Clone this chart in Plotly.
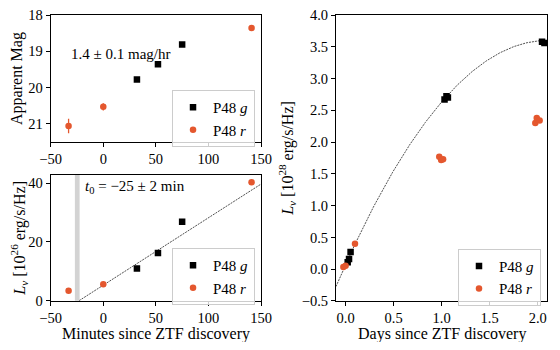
import numpy as np
import plotly.graph_objects as go

# --- данные ---
# верхняя левая панель: видимая звёздная величина
g_min = [32, 52, 75]
g_mag = [19.78, 19.36, 18.81]
g_mag_err = [0.03, 0.03, 0.03]
r_min = [-33, 0, 141]
r_mag = [21.06, 20.53, 18.36]
r_mag_err = [0.2, 0.1, 0.03]

# нижняя левая панель: светимость, 1e26 erg/s/Hz
g_lum = [11.0, 16.2, 26.9]
g_lum_err = [0.4, 0.5, 0.7]
r_lum = [3.4, 5.6, 40.3]
r_lum_err = [0.6, 0.5, 0.6]

# линейная аппроксимация и t0
lin_zero = -23.0
lin_slope = 0.2295
t0_lo, t0_hi = -27.0, -22.5

# правая панель: дни, 1e28 erg/s/Hz
g_day = [0.022, 0.036, 0.052, 1.03, 1.05, 1.065, 2.045, 2.07]
g_lum28 = [0.11, 0.16, 0.27, 2.67, 2.72, 2.70, 3.58, 3.56]
r_day = [-0.023, 0.0, 0.098, 0.975, 0.995, 1.015, 1.975, 1.99, 2.02]
r_lum28 = [0.035, 0.056, 0.40, 1.77, 1.72, 1.73, 2.30, 2.38, 2.34]

# параболическая аппроксимация
par_peak_x, par_peak_y, par_k = 2.1, 3.6, 0.8

ORANGE = '#E4572E'
FONT = 'Liberation Serif'

fig = go.Figure()

# страница добавляет отступ 8px, поэтому фигура чуть меньше окна
dom_x_left = [0.0785, 0.4651]
dom_x_right = [0.6029, 0.9914]


def add_pair(xg, yg, eg, xr, yr, er, xa, ya, legend):
    fig.add_trace(go.Scatter(x=xg, y=yg, mode='markers', name='P48 <i>g</i>',
                             marker=dict(symbol='square', size=6.5, color='black'),
                             error_y=dict(type='data', array=eg, color='black', thickness=1.3, width=0),
                             xaxis=xa, yaxis=ya, legend=legend))
    fig.add_trace(go.Scatter(x=xr, y=yr, mode='markers', name='P48 <i>r</i>',
                             marker=dict(symbol='circle', size=6.5, color=ORANGE),
                             error_y=dict(type='data', array=er, color=ORANGE, thickness=1.3, width=0),
                             xaxis=xa, yaxis=ya, legend=legend))


# Верхний левый график
add_pair(g_min, g_mag, g_mag_err, r_min, r_mag, r_mag_err, 'x', 'y', 'legend')

# Нижний левый график
lx = np.array([lin_zero, 150])
fig.add_trace(go.Scatter(x=lx, y=lin_slope * (lx - lin_zero), mode='lines',
                         line=dict(color='#222', width=0.8, dash='2px,1px'),
                         showlegend=False, xaxis='x2', yaxis='y2'))
add_pair(g_min, g_lum, g_lum_err, r_min, r_lum, r_lum_err, 'x2', 'y2', 'legend2')
fig.add_shape(type='rect', xref='x2', yref='y2 domain', x0=t0_lo, x1=t0_hi, y0=0, y1=1,
              fillcolor='#d3d3d3', line_width=0, layer='below')

# Правый график
cx = np.linspace(-0.1, 2.1, 200)
fig.add_trace(go.Scatter(x=cx, y=par_peak_y - par_k * (cx - par_peak_x) ** 2, mode='lines',
                         line=dict(color='#222', width=0.8, dash='2px,1px'),
                         showlegend=False, xaxis='x3', yaxis='y3'))
add_pair(g_day, g_lum28, [0.01] * len(g_day), r_day, r_lum28, [0.01] * len(r_day), 'x3', 'y3', 'legend3')

axis_style = dict(showline=True, linecolor='black', linewidth=1, mirror=True, automargin=False,
                  ticks='outside', ticklen=4, tickwidth=1, tickcolor='black', ticklabeloverflow='allow',
                  showgrid=False, zeroline=False, tickfont=dict(size=14.5, family=FONT, color='black'),
                  title_font=dict(size=16, family=FONT, color='black'))

fig.update_layout(
    width=544, height=334, margin=dict(l=0, r=0, t=0, b=0),
    plot_bgcolor='white', paper_bgcolor='white',
    font=dict(family=FONT, size=15, color='black'),
    xaxis=dict(domain=dom_x_left, anchor='y', range=[-50, 150], tickvals=[-50, 0, 50, 100, 150], **axis_style),
    yaxis=dict(domain=[0.5988, 0.979], anchor='x', range=[21.5, 18], tickvals=[18, 19, 20, 21],
               title=dict(text='Apparent Mag', standoff=6), **axis_style),
    xaxis2=dict(domain=dom_x_left, anchor='y2', range=[-50, 150], tickvals=[-50, 0, 50, 100, 150], **axis_style),
    yaxis2=dict(domain=[0.1237, 0.5], anchor='x2', range=[0, 42.8], tickvals=[0, 20, 40],
                title=dict(text='<i>L<sub>ν</sub></i> [10<sup>26</sup> erg/s/Hz]', standoff=4), **axis_style),
    xaxis3=dict(domain=dom_x_right, anchor='y3', range=[-0.1, 2.1], tickvals=[0, 0.5, 1, 1.5, 2],
                tickformat='.1f', **axis_style),
    yaxis3=dict(domain=[0.1228, 0.979], anchor='x3', range=[-0.5, 4.0], dtick=0.5, tickformat='.1f',
                title=dict(text='<i>L<sub>ν</sub></i> [10<sup>28</sup> erg/s/Hz]', standoff=4), **axis_style),
)

leg_style = dict(bgcolor='rgba(255,255,255,0.8)', bordercolor='#cccccc', borderwidth=1,
                 font=dict(size=15, family=FONT), xanchor='left', yanchor='top',
                 tracegroupgap=0, itemwidth=30)
fig.update_layout(legend=dict(x=0.3015, y=0.7545, **leg_style),
                  legend2=dict(x=0.3015, y=0.2814, **leg_style),
                  legend3=dict(x=0.8272, y=0.2793, **leg_style))

# подписи осей X — отдельными аннотациями
for xref, txt in [('x2 domain', 'Minutes since ZTF discovery'), ('x3 domain', 'Days since ZTF discovery')]:
    fig.add_annotation(x=0.5, y=0.024, xref=xref, yref='paper', yanchor='middle', text=txt,
                       showarrow=False, font=dict(size=16, family=FONT))

fig.add_annotation(x=16, y=19.08, xref='x', yref='y', text='1.4 ± 0.1 mag/hr',
                   showarrow=False, font=dict(size=15, family=FONT))
fig.add_annotation(x=-19.5, y=38.8, xref='x2', yref='y2', xanchor='left',
                   text='<i>t</i><sub>0</sub> = −25 ± 2 min', showarrow=False,
                   font=dict(size=15, family=FONT))

fig.write_html("out.html")
